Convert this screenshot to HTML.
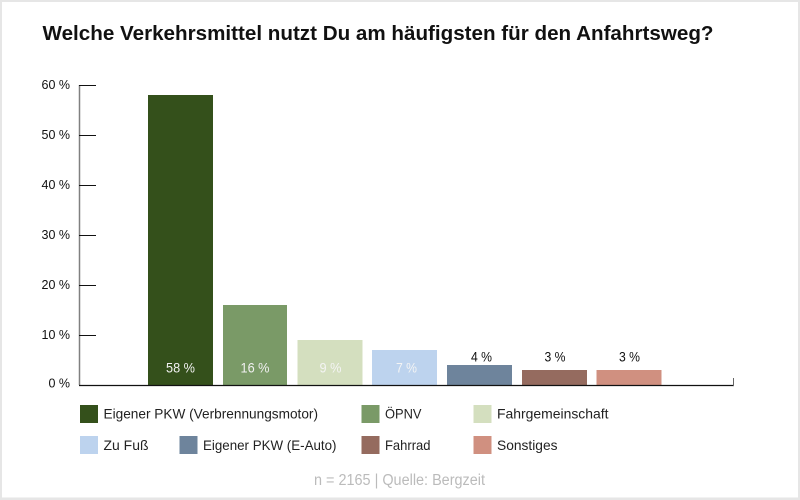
<!DOCTYPE html>
<html><head><meta charset="utf-8"><style>
html,body{margin:0;padding:0;background:#fff;}
svg{display:block;}
text{font-family:"Liberation Sans",Arial,sans-serif;}
</style></head><body>
<svg width="800" height="500" viewBox="0 0 800 500" xmlns="http://www.w3.org/2000/svg">
<rect x="0" y="0" width="800" height="500" fill="#e6e6e6"/>
<rect x="2" y="2" width="796" height="495.5" fill="#ffffff"/>
<text x="42.5" y="40" font-size="20.5" font-weight="bold" fill="#111" textLength="671" lengthAdjust="spacingAndGlyphs">Welche Verkehrsmittel nutzt Du am häufigsten für den Anfahrtsweg?</text>

<!-- y axis -->
<line x1="79.5" y1="85" x2="79.5" y2="385" stroke="#808080" stroke-width="1.5"/>
<g stroke="#111" stroke-width="1">
<line x1="79" y1="85.5" x2="96" y2="85.5"/>
<line x1="79" y1="135.5" x2="96" y2="135.5"/>
<line x1="79" y1="185.5" x2="96" y2="185.5"/>
<line x1="79" y1="235.5" x2="96" y2="235.5"/>
<line x1="79" y1="285.5" x2="96" y2="285.5"/>
<line x1="79" y1="335.5" x2="96" y2="335.5"/>
</g>
<g font-size="12.5" fill="#111" text-anchor="end">
<text x="70" y="89">60 %</text>
<text x="70" y="139">50 %</text>
<text x="70" y="189">40 %</text>
<text x="70" y="239">30 %</text>
<text x="70" y="289">20 %</text>
<text x="70" y="339">10 %</text>
<text x="70" y="387.5">0 %</text>
</g>

<!-- bars -->
<rect x="148" y="95" width="65" height="290" fill="#34501b"/>
<rect x="223" y="305" width="64" height="80" fill="#7a9a67"/>
<rect x="297.5" y="340" width="65" height="45" fill="#d4dfbf"/>
<rect x="372" y="350" width="65" height="35" fill="#bdd3ee"/>
<rect x="447" y="365" width="65" height="20" fill="#6e849c"/>
<rect x="522" y="370" width="65" height="15" fill="#956b5f"/>
<rect x="596.5" y="370" width="65" height="15" fill="#d09080"/>

<!-- baseline -->
<line x1="79" y1="385.5" x2="734" y2="385.5" stroke="#111" stroke-width="1.2"/>
<line x1="733.5" y1="378" x2="733.5" y2="386" stroke="#666" stroke-width="1"/>

<!-- value labels -->
<g font-size="14" text-anchor="middle">
<text x="180.5" y="372.5" fill="#f0f0f0" textLength="29" lengthAdjust="spacingAndGlyphs">58 %</text>
<text x="255" y="372.5" fill="#f0f0f0" textLength="29" lengthAdjust="spacingAndGlyphs">16 %</text>
<text x="330.5" y="372.5" fill="#f4f4f4" textLength="22" lengthAdjust="spacingAndGlyphs">9 %</text>
<text x="406.5" y="372.5" fill="#f4f4f4" textLength="21" lengthAdjust="spacingAndGlyphs">7 %</text>
<text x="481.5" y="361.5" fill="#111" textLength="21" lengthAdjust="spacingAndGlyphs">4 %</text>
<text x="555" y="361.5" fill="#111" textLength="21" lengthAdjust="spacingAndGlyphs">3 %</text>
<text x="629.5" y="361.5" fill="#111" textLength="21" lengthAdjust="spacingAndGlyphs">3 %</text>
</g>

<!-- legend -->
<g>
<rect x="80" y="405" width="18" height="18" fill="#34501b"/>
<rect x="361.5" y="405" width="18" height="18" fill="#7a9a67"/>
<rect x="473.5" y="405" width="18" height="18" fill="#d4dfbf"/>
<rect x="80" y="436" width="18" height="18" fill="#bdd3ee"/>
<rect x="179.5" y="436" width="18" height="18" fill="#6e849c"/>
<rect x="361.5" y="436" width="18" height="18" fill="#956b5f"/>
<rect x="473.5" y="436" width="18" height="18" fill="#d09080"/>
</g>
<g font-size="14" fill="#222">
<text x="103.5" y="418.5" textLength="214.5" lengthAdjust="spacingAndGlyphs">Eigener PKW (Verbrennungsmotor)</text>
<text x="385" y="418.5" textLength="36.5" lengthAdjust="spacingAndGlyphs">ÖPNV</text>
<text x="497" y="418.5" textLength="111.5" lengthAdjust="spacingAndGlyphs">Fahrgemeinschaft</text>
<text x="103.5" y="450" textLength="45" lengthAdjust="spacingAndGlyphs">Zu Fuß</text>
<text x="203" y="450" textLength="133.5" lengthAdjust="spacingAndGlyphs">Eigener PKW (E-Auto)</text>
<text x="385" y="450" textLength="45.5" lengthAdjust="spacingAndGlyphs">Fahrrad</text>
<text x="497" y="450" textLength="60.5" lengthAdjust="spacingAndGlyphs">Sonstiges</text>
</g>
<text x="314" y="485" font-size="15.5" fill="#bbbbbb" textLength="171" lengthAdjust="spacingAndGlyphs">n = 2165 | Quelle: Bergzeit</text>
</svg>
</body></html>
